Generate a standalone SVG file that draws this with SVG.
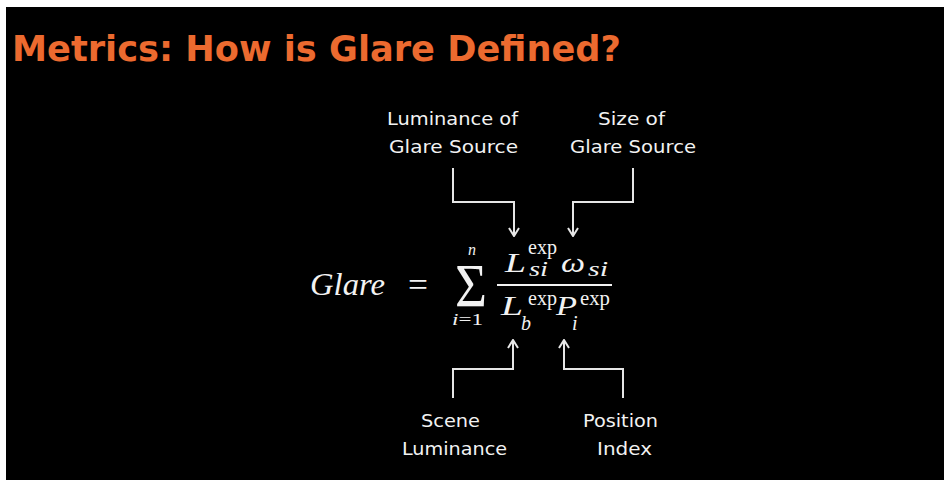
<svg xmlns="http://www.w3.org/2000/svg" width="944" height="480" viewBox="0 0 944 480">
<defs>
<style>
.title{font-family:"DejaVu Sans",Verdana,sans-serif;font-weight:bold;font-size:36px;fill:#EC6A2F}
.lbl{font-family:"DejaVu Sans",Verdana,sans-serif;font-size:18px;fill:#F2F2F2}
.m{font-family:"Liberation Serif","Times New Roman",serif;fill:#F2F2F2}
.it{font-style:italic}
.conn{fill:none;stroke:#E6E6E6;stroke-width:2}
</style>
<marker id="arr" viewBox="0 0 10 12" refX="9" refY="6" markerWidth="10" markerHeight="12" orient="auto" markerUnits="userSpaceOnUse">
<path d="M1,1 L9,6 L1,11" fill="none" stroke="#E6E6E6" stroke-width="2"/>
</marker>
</defs>
<rect x="0" y="0" width="944" height="480" fill="#FFFFFF"/>
<rect x="6" y="7" width="938" height="473" fill="#000000"/>
<text class="title" x="12" y="61" textLength="609" lengthAdjust="spacingAndGlyphs">Metrics: How is Glare Defined?</text>

<g id="formula">
<text class="m it" x="310" y="295" font-size="32" textLength="75" lengthAdjust="spacingAndGlyphs">Glare</text>
<text class="m" x="408" y="296" font-size="34" textLength="20" lengthAdjust="spacingAndGlyphs">=</text>
<text class="m" x="455" y="306" font-size="62" textLength="32" lengthAdjust="spacingAndGlyphs">Σ</text>
<text class="m it" x="468" y="255" font-size="16">n</text>
<text class="m" x="452" y="325" font-size="17" textLength="31" lengthAdjust="spacingAndGlyphs"><tspan class="it">i</tspan>=1</text>
<line x1="497" y1="285" x2="612" y2="285" stroke="#F2F2F2" stroke-width="2"/>
<text class="m it" x="505" y="272" font-size="28" textLength="21" lengthAdjust="spacingAndGlyphs">L</text>
<text class="m" x="528" y="254" font-size="20" textLength="29" lengthAdjust="spacingAndGlyphs">exp</text>
<text class="m it" x="529" y="276" font-size="22" textLength="19" lengthAdjust="spacingAndGlyphs">si</text>
<text class="m it" x="561" y="272" font-size="27" textLength="24" lengthAdjust="spacingAndGlyphs">ω</text>
<text class="m it" x="588" y="276" font-size="22" textLength="20" lengthAdjust="spacingAndGlyphs">si</text>
<text class="m it" x="501" y="315" font-size="28" textLength="22" lengthAdjust="spacingAndGlyphs">L</text>
<text class="m" x="528" y="305" font-size="20" textLength="29" lengthAdjust="spacingAndGlyphs">exp</text>
<text class="m it" x="521" y="330" font-size="20">b</text>
<text class="m it" x="556" y="315" font-size="28" textLength="21" lengthAdjust="spacingAndGlyphs">P</text>
<text class="m" x="580" y="305" font-size="20" textLength="30" lengthAdjust="spacingAndGlyphs">exp</text>
<text class="m it" x="572" y="330" font-size="20">i</text>
</g>

<g id="lum-source">
<text class="lbl" x="387" y="125" textLength="131" lengthAdjust="spacingAndGlyphs">Luminance of</text>
<text class="lbl" x="389" y="153" textLength="129" lengthAdjust="spacingAndGlyphs">Glare Source</text>
</g>
<g id="size-source">
<text class="lbl" x="598" y="125" textLength="67" lengthAdjust="spacingAndGlyphs">Size of</text>
<text class="lbl" x="570" y="153" textLength="126" lengthAdjust="spacingAndGlyphs">Glare Source</text>
</g>
<g id="scene-lum">
<text class="lbl" x="421" y="427" textLength="59" lengthAdjust="spacingAndGlyphs">Scene</text>
<text class="lbl" x="402" y="455" textLength="105" lengthAdjust="spacingAndGlyphs">Luminance</text>
</g>
<g id="position-index">
<text class="lbl" x="583" y="427" textLength="75" lengthAdjust="spacingAndGlyphs">Position</text>
<text class="lbl" x="597" y="455" textLength="55" lengthAdjust="spacingAndGlyphs">Index</text>
</g>

<g id="connectors">
<path class="conn" d="M453,168 V202 H514 V236" marker-end="url(#arr)"/>
<path class="conn" d="M633,168 V202 H573 V236" marker-end="url(#arr)"/>
<path class="conn" d="M453,398 V369 H513 V340" marker-end="url(#arr)"/>
<path class="conn" d="M623,398 V369 H564 V340" marker-end="url(#arr)"/>
</g>
</svg>
